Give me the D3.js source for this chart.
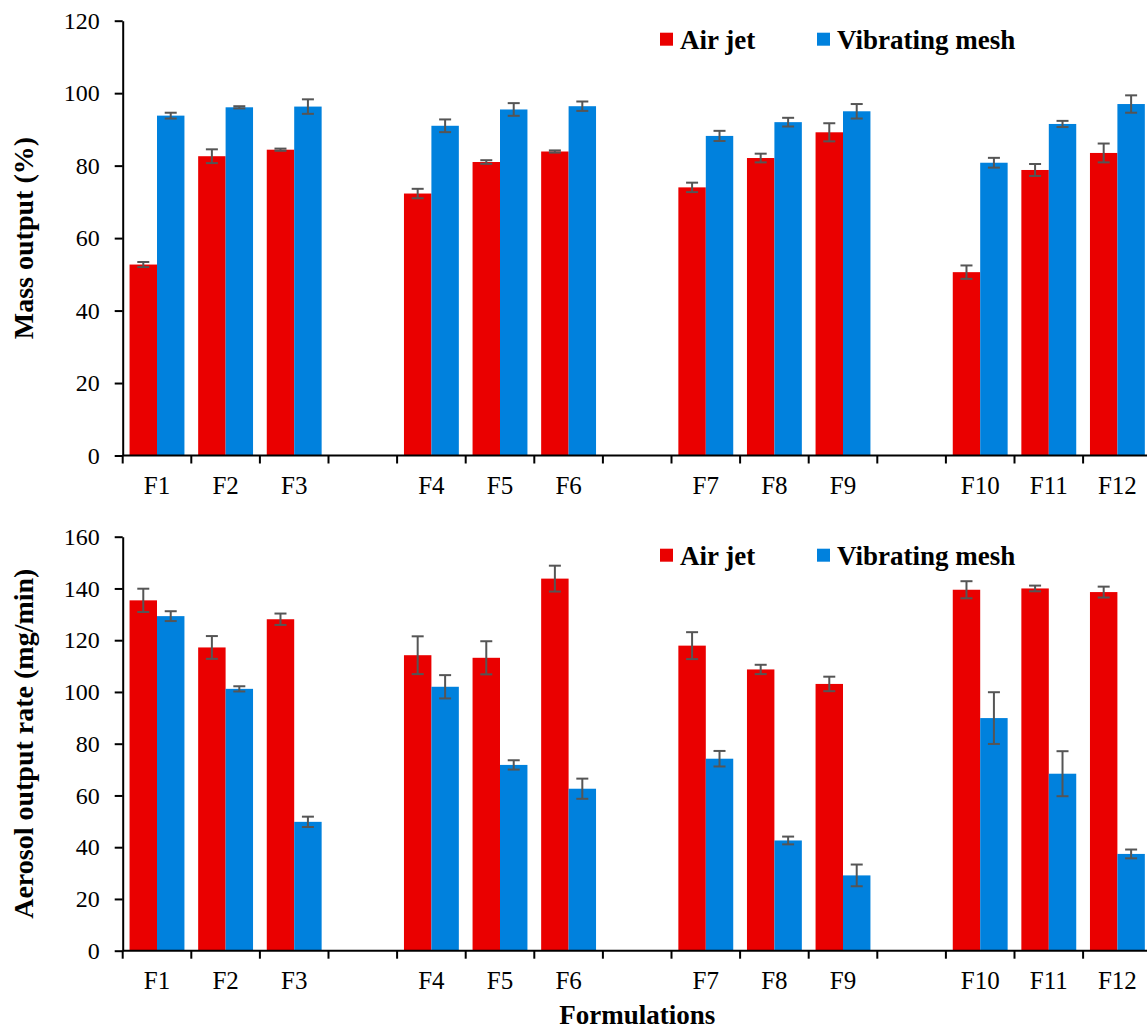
<!DOCTYPE html>
<html>
<head>
<meta charset="utf-8">
<script src="https://cdn.jsdelivr.net/npm/d3@7"></script>
<style>
  html, body { margin: 0; padding: 0; background: #fff; }
  svg { display: block; }
  text { font-family: "Liberation Serif", "Times New Roman", serif; fill: #000; }
</style>
</head>
<body>
<svg id="chart" width="1147" height="1031"></svg>
<script>
// Formulations, shown in groups of three with an empty slot between groups
const categories = ["F1", "F2", "F3", "F4", "F5", "F6", "F7", "F8", "F9", "F10", "F11", "F12"];
const seriesNames = ["Air jet", "Vibrating mesh"];
const seriesColors = ["#ea0000", "#0081dd"];

// Mass output (%), mean and error
const airJetMass      = [52.7, 82.6, 84.4, 72.3, 81.0, 83.9, 74.0, 82.1, 89.2, 50.6, 78.8, 83.5];
const airJetMassErr   = [0.7, 1.9, 0.3, 1.3, 0.5, 0.3, 1.3, 1.2, 2.5, 1.85, 1.65, 2.6];
const meshMass        = [93.8, 96.1, 96.3, 91.0, 95.5, 96.4, 88.2, 92.0, 95.0, 80.8, 91.5, 97.0];
const meshMassErr     = [0.8, 0.3, 2.0, 1.75, 1.75, 1.3, 1.4, 1.2, 2.0, 1.35, 0.85, 2.4];

// Aerosol output rate (mg/min), mean and error
const airJetRate      = [135.4, 117.2, 128.1, 114.2, 113.2, 143.8, 117.9, 108.7, 103.1, 139.5, 140.0, 138.6];
const airJetRateErr   = [4.5, 4.4, 2.2, 7.3, 6.4, 5.0, 5.2, 1.8, 2.8, 3.3, 1.1, 2.1];
const meshRate        = [129.3, 101.2, 49.8, 102.0, 71.8, 62.6, 74.2, 42.6, 29.1, 89.9, 68.4, 37.4];
const meshRateErr     = [1.9, 1.0, 2.0, 4.5, 1.8, 3.9, 3.0, 1.5, 4.2, 10.0, 8.7, 1.7];

// Axis tick values
const massTicks = [0, 20, 40, 60, 80, 100, 120];
const rateTicks = [0, 20, 40, 60, 80, 100, 120, 140, 160];

// Slots along x: three formulations, then a spacer
const slots = [];
categories.forEach((c, i) => {
  slots.push(c);
  if (i % 3 === 2 && i < categories.length - 1) slots.push("gap" + i);
});

const svg = d3.select("#chart");
svg.append("rect").attr("width", 1147).attr("height", 1031).attr("fill", "#fff");

const xLeft = 122.7, slotW = 68.6;
const x = d3.scaleBand().domain(slots).range([xLeft, xLeft + slotW * slots.length]).padding(0);
const xs = d3.scaleBand().domain(seriesNames).range([0, x.bandwidth()]).paddingInner(0).paddingOuter(0.25);

function panel(opts) {
  const { top, bottom, max, ticks, title, series } = opts;
  const y = d3.scaleLinear().domain([0, max]).range([bottom, top]);
  const g = svg.append("g");

  // bars
  series.forEach((s, si) => {
    const rows = categories.map((c, i) => ({ c, v: s.values[i], e: s.errors[i] }));
    const sg = g.append("g");
    sg.selectAll("rect").data(rows).join("rect")
      .attr("x", d => x(d.c) + xs(seriesNames[si]))
      .attr("y", d => y(d.v))
      .attr("width", xs.bandwidth())
      .attr("height", d => y(0) - y(d.v))
      .attr("fill", seriesColors[si]);

    // error bars
    const eg = sg.selectAll("g.err").data(rows).join("g").attr("class", "err")
      .attr("transform", d => `translate(${x(d.c) + xs(seriesNames[si]) + xs.bandwidth() / 2},0)`);
    eg.append("line").attr("x1", 0).attr("x2", 0)
      .attr("y1", d => y(d.v + d.e)).attr("y2", d => y(d.v - d.e));
    eg.append("line").attr("x1", -6).attr("x2", 6)
      .attr("y1", d => y(d.v + d.e)).attr("y2", d => y(d.v + d.e));
    eg.append("line").attr("x1", -6).attr("x2", 6)
      .attr("y1", d => y(d.v - d.e)).attr("y2", d => y(d.v - d.e));
    eg.selectAll("line").attr("stroke", "#555").attr("stroke-width", 2);
  });

  // y axis
  const ya = g.append("g").attr("transform", `translate(${xLeft},0)`)
    .call(d3.axisLeft(y).tickValues(ticks).tickSize(8).tickSizeOuter(0).tickPadding(15));
  ya.select(".domain").attr("stroke", "#000").attr("stroke-width", 2);
  ya.selectAll(".tick line").attr("stroke", "#000").attr("stroke-width", 2);
  ya.selectAll(".tick text").attr("font-size", 24).style("font-family", "'Liberation Serif', serif");

  // x axis: ticks between slots, labels centred in each formulation slot
  const xa = g.append("g").attr("transform", `translate(0,${bottom})`);
  xa.append("line").attr("x1", xLeft).attr("x2", x.range()[1])
    .attr("stroke", "#000").attr("stroke-width", 2);
  const bounds = slots.map(s => x(s)).concat([x.range()[1]]);
  xa.selectAll("line.tk").data(bounds).join("line").attr("class", "tk")
    .attr("x1", d => d).attr("x2", d => d).attr("y1", 0).attr("y2", 8)
    .attr("stroke", "#000").attr("stroke-width", 2);
  xa.selectAll("text").data(categories).join("text")
    .attr("x", d => x(d) + x.bandwidth() / 2)
    .attr("y", 38)
    .attr("text-anchor", "middle")
    .attr("font-size", 25)
    .text(d => d);

  // y title
  g.append("text")
    .attr("transform", `translate(33,${(top + bottom) / 2}) rotate(-90)`)
    .attr("text-anchor", "middle")
    .attr("font-size", 28).attr("font-weight", "bold")
    .text(title);

  // legend
  const lg = g.append("g");
  const lx = [660, 817];
  seriesNames.forEach((n, i) => {
    lg.append("rect").attr("x", lx[i]).attr("y", top + 12).attr("width", 13).attr("height", 13)
      .attr("fill", seriesColors[i]);
    lg.append("text").attr("x", lx[i] + 20).attr("y", top + 28)
      .attr("font-size", 27).attr("font-weight", "bold").text(n);
  });
}

panel({
  top: 20.7, bottom: 455.5, max: 120, ticks: massTicks, title: "Mass output (%)",
  series: [
    { values: airJetMass, errors: airJetMassErr },
    { values: meshMass, errors: meshMassErr }
  ]
});

panel({
  top: 536.7, bottom: 950.7, max: 160, ticks: rateTicks, title: "Aerosol output rate (mg/min)",
  series: [
    { values: airJetRate, errors: airJetRateErr },
    { values: meshRate, errors: meshRateErr }
  ]
});

svg.append("text")
  .attr("x", xLeft + slotW * slots.length / 2)
  .attr("y", 1024)
  .attr("text-anchor", "middle")
  .attr("font-size", 27).attr("font-weight", "bold")
  .text("Formulations");
</script>
</body>
</html>
